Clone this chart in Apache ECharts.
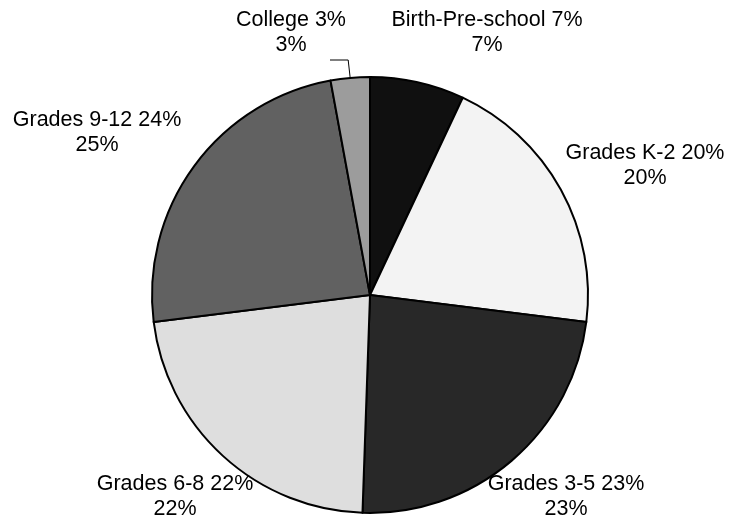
<!DOCTYPE html>
<html><head><meta charset="utf-8">
<script src="https://cdn.jsdelivr.net/npm/echarts@6/dist/echarts.min.js"></script>
<style>html,body{margin:0;padding:0;background:#fff}#c{width:737px;height:523px}</style>
</head><body><div id="c"></div>
<script>
const categories = ['Birth-Pre-school 7%', 'Grades K-2 20%', 'Grades 3-5 23%', 'Grades 6-8 22%', 'Grades 9-12 24%', 'College 3%'];
const values = [7, 20, 23.6, 22.5, 24.1, 2.9];
const percentLabels = ['7%', '20%', '23%', '22%', '25%', '3%'];
const colors = ['#101010', '#f3f3f3', '#282828', '#dedede', '#616161', '#9c9c9c'];
const labelPos = [[487, 33], [645, 166], [566, 497], [175, 497], [97, 133], [291, 33]];

const chart = echarts.init(document.getElementById('c'), null, {renderer: 'canvas'});
chart.setOption({
  animation: false,
  backgroundColor: '#fff',
  series: [{
    type: 'pie',
    center: [370, 295],
    radius: 218,
    startAngle: 90,
    clockwise: true,
    data: categories.map((n, i) => ({
      name: n, value: values[i],
      itemStyle: {color: colors[i]},
      labelLine: {show: i === 5, length: 12, length2: 10, lineStyle: {color: '#000', width: 1}}
    })),
    itemStyle: {borderColor: '#000', borderWidth: 2},
    label: {
      show: true, position: 'outside', overflow: 'none', alignTo: 'none',
      formatter: p => p.name + '\n' + percentLabels[p.dataIndex],
      fontFamily: 'Liberation Sans, Arial, sans-serif',
      fontSize: 21.5, lineHeight: 25, color: '#000', align: 'center'
    },
    labelLayout: p => {
      const pos = labelPos[p.dataIndex];
      const out = {x: pos[0], y: pos[1], align: 'center', verticalAlign: 'middle', width: 300};
      if (p.dataIndex === 5 && p.labelLinePoints) {
        const s = p.labelLinePoints[0];
        const yTurn = pos[1] + 27;
        out.labelLinePoints = [[s[0], s[1]], [s[0] - 2, yTurn], [pos[0] + 39, yTurn]];
      }
      return out;
    }
  }]
});
</script></body></html>
